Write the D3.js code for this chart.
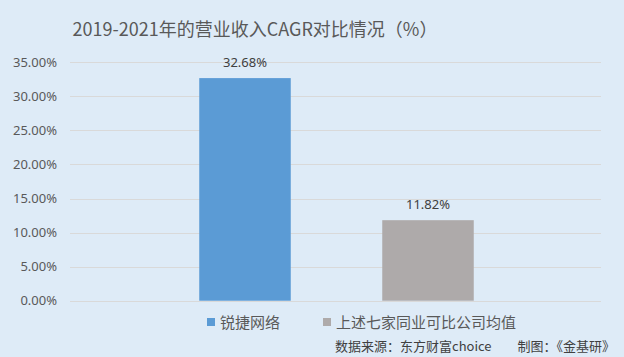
<!DOCTYPE html>
<html><head><meta charset="utf-8">
<script src="https://cdn.jsdelivr.net/npm/d3@7"></script>
<style>body{margin:0;background:#DEEBF7;}svg{display:block;font-family:"Noto Sans CJK SC","Noto Sans",sans-serif;}</style>
</head><body>
<script>
const categories = ["锐捷网络", "上述七家同业可比公司均值"];
const values = [32.68, 11.82];
const colors = ["#5B9BD5", "#AEAAAA"];
const yTicks = [0, 5, 10, 15, 20, 25, 30, 35];
const title = "2019-2021年的营业收入CAGR对比情况（%）";
const source = "数据来源：东方财富choice　　制图：《金基研》";

const W = 624, H = 357;
const svg = d3.select("body").append("svg").attr("width", W).attr("height", H);
svg.append("rect").attr("width", W).attr("height", H).attr("fill", "#DEEBF7");

const y = d3.scaleLinear().domain([0, 35]).range([300.7, 62.3]);
const x = d3.scaleBand().domain(categories).range([153.5, 519.5]).paddingInner(0.5).paddingOuter(0.25);
const gridX0 = 70, gridX1 = 601;

// gridlines
svg.append("g").selectAll("line").data(yTicks).join("line")
  .attr("x1", gridX0).attr("x2", gridX1)
  .attr("y1", d => Math.round(y(d)) + 0.5).attr("y2", d => Math.round(y(d)) + 0.5)
  .attr("stroke", "#D9D9D9").attr("stroke-width", 1);

// y axis labels
const yAxis = d3.axisLeft(y).tickValues(yTicks).tickSize(0).tickPadding(0)
  .tickFormat(d => d.toFixed(2) + "%");
const ga = svg.append("g").attr("transform", `translate(57,0)`).call(yAxis);
ga.select(".domain").remove();
ga.selectAll("text").attr("fill", "#595959").style("font-size", "13px")
  .style("font-family", '"Noto Sans","DejaVu Sans",sans-serif');

// bars
svg.append("g").selectAll("rect").data(categories).join("rect")
  .attr("x", d => x(d)).attr("width", x.bandwidth())
  .attr("y", (d, i) => y(values[i])).attr("height", (d, i) => y(0) - y(values[i]))
  .attr("fill", (d, i) => colors[i]);

// value labels
svg.append("g").selectAll("text").data(categories).join("text")
  .attr("x", d => x(d) + x.bandwidth() / 2)
  .attr("y", (d, i) => y(values[i]) - 11)
  .attr("text-anchor", "middle").attr("fill", "#404040")
  .style("font-size", "13px").style("font-family", '"Noto Sans","DejaVu Sans",sans-serif')
  .text((d, i) => values[i].toFixed(2) + "%");

// title
svg.append("text").attr("x", 255).attr("y", 36).attr("text-anchor", "middle")
  .attr("fill", "#595959").style("font-size", "18px").text(title);

// legend
const legX = [207, 323];
const lg = svg.append("g").selectAll("g").data(categories).join("g")
  .attr("transform", (d, i) => `translate(${legX[i]},318)`);
lg.append("rect").attr("width", 8).attr("height", 8).attr("fill", (d, i) => colors[i]);
lg.append("text").attr("x", 13).attr("y", 9.5).attr("fill", "#595959")
  .style("font-size", "15px").text(d => d);

// source
svg.append("text").attr("x", 615).attr("y", 351).attr("text-anchor", "end")
  .attr("fill", "#404040").style("font-size", "13px").text(source);
</script>
</body></html>
